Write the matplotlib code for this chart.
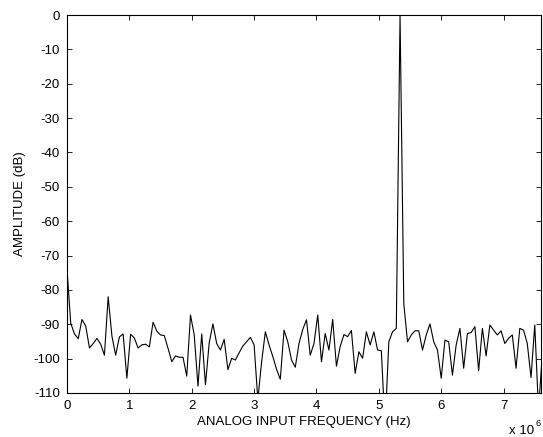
import numpy as np
import matplotlib
matplotlib.use("Agg")
import matplotlib.pyplot as plt

# ───────────────────────── Data ─────────────────────────
bin_width_mhz = 0.06  # FFT bin spacing, x axis in units of 10^6 Hz

amplitude_db = [
    -74.0, -89.7, -92.8, -94.2, -88.6, -90.5, -96.9, -95.6, -94.1, -95.8,
    -99.0, -82.0, -93.4, -99.0, -93.7, -92.8, -105.7, -92.9, -94.0, -96.9,
    -96.0, -95.8, -96.6, -89.4, -92.0, -93.1, -93.3, -97.0, -100.9, -99.2,
    -99.6, -99.6, -105.1, -87.3, -93.1, -108.0, -92.8, -107.6, -95.4, -89.9,
    -95.6, -97.5, -94.4, -103.2, -99.9, -100.4, -98.3, -96.3, -95.1, -93.8,
    -96.0, -112.0, -101.0, -92.2, -96.0, -99.4, -103.1, -106.0, -91.7, -95.1,
    -100.4, -102.5, -95.6, -91.5, -88.7, -99.0, -95.6, -87.3, -100.9, -92.7,
    -97.5, -88.6, -102.2, -96.5, -93.0, -93.6, -91.8, -104.3, -98.0, -99.9,
    -92.2, -96.0, -92.2, -97.5, -97.7, -120.0, -95.1, -92.2, -91.2, 0.0,
    -84.0, -95.1, -93.1, -91.9, -91.9, -97.5, -93.1, -89.9, -95.1, -97.5,
    -105.7, -94.6, -95.1, -104.8, -96.0, -91.2, -102.8, -92.7, -92.4, -90.7,
    -103.5, -91.2, -99.2, -90.2, -91.7, -93.1, -91.9, -95.6, -94.1, -93.1,
    -102.8, -91.2, -91.7, -95.6, -105.5, -90.2, -115.0, -99.0,
]
frequency = np.arange(len(amplitude_db)) * bin_width_mhz

x_ticks = [0, 1, 2, 3, 4, 5, 6, 7]
y_ticks = [-110, -100, -90, -80, -70, -60, -50, -40, -30, -20, -10, 0]

# ───────────────────────── Style ─────────────────────────
plt.rcParams["font.family"] = ["Liberation Sans", "DejaVu Sans"]
plt.rcParams["axes.unicode_minus"] = False
font_size = 9.5

# ───────────────────────── Figure ─────────────────────────
fig = plt.figure(figsize=(5.43, 4.37), dpi=100)
ax = fig.add_axes([67 / 543, 1 - 393 / 437, (541 - 67) / 543, (393 - 15) / 437])

ax.plot(frequency, amplitude_db, color="black", linewidth=0.8)

ax.set_xlim(0, 7.6)
ax.set_ylim(-110, 0)
ax.set_xticks(x_ticks)
ax.set_yticks(y_ticks)
ax.tick_params(direction="in", top=True, right=True, length=3.6, width=0.6,
               labelsize=font_size, pad=5)
for spine in ax.spines.values():
    spine.set_linewidth(0.8)

ax.set_xlabel("ANALOG INPUT FREQUENCY (Hz)", fontsize=font_size, labelpad=3)
ax.set_ylabel("AMPLITUDE (dB)", fontsize=font_size, labelpad=5)

# exponent marker at the bottom right
fig.text(509 / 543, 1 - 425 / 437, "x 10", fontsize=font_size, va="top", ha="left")
fig.text(535 / 543, 1 - 419 / 437, "6", fontsize=font_size * 0.7, va="top", ha="left")

fig.savefig("out.png", dpi=100)
